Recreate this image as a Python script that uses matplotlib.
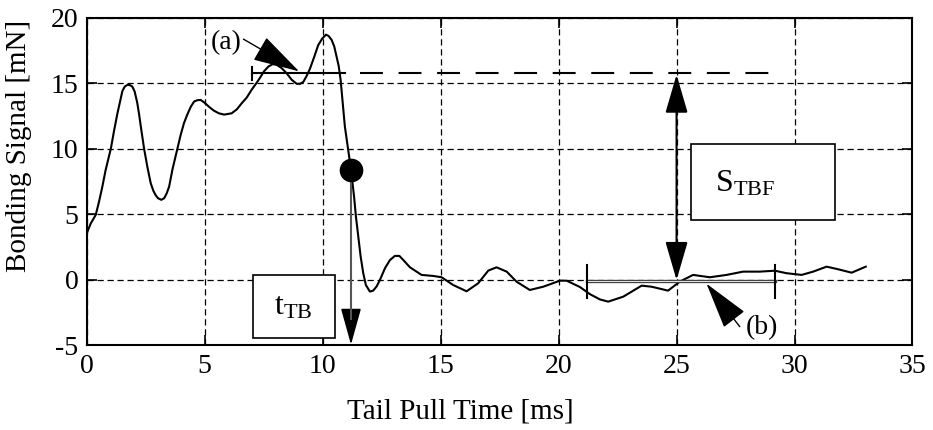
import numpy as np
import matplotlib
matplotlib.use('Agg')
import matplotlib.pyplot as plt
from matplotlib.patches import Rectangle, FancyArrowPatch

plt.rcParams['font.family'] = ['Liberation Serif', 'DejaVu Serif']
plt.rcParams['axes.unicode_minus'] = False

# tail pull signal
t_ms = [0.0, 0.17, 0.38, 0.52, 0.66, 0.8, 1.02, 1.16, 1.30, 1.41, 1.51, 1.61, 1.72,
        1.83, 1.93, 2.03, 2.14, 2.22, 2.29, 2.43, 2.57, 2.71, 2.82, 2.92, 3.02, 3.16,
        3.28, 3.39, 3.49, 3.63, 3.73, 3.84, 3.98, 4.12, 4.26, 4.41, 4.55, 4.69, 4.83,
        5.0, 5.18, 5.39, 5.6, 5.82, 6.14, 6.36, 6.57, 6.78, 6.99, 7.17, 7.34, 7.51,
        7.7, 7.88, 8.05, 8.26, 8.47, 8.69, 8.9, 9.04, 9.18, 9.32, 9.46, 9.64, 9.81,
        9.98, 10.14, 10.25, 10.38, 10.49, 10.59, 10.68, 10.76, 10.85, 10.94, 11.08,
        11.2, 11.33, 11.41, 11.51, 11.61, 11.72, 11.83, 12.0, 12.14, 12.29, 12.43,
        12.64, 12.85, 13.06, 13.25, 13.42, 13.7, 14.19, 14.69, 15.04, 15.53, 16.1,
        16.59, 17.02, 17.37, 17.8, 18.22, 18.78, 19.35, 20.06, 20.34, 20.9, 21.33,
        21.75, 22.1, 22.74, 23.52, 23.94, 24.64, 25.14, 25.7, 26.41, 27.12, 27.82,
        28.53, 29.17, 29.66, 30.3, 30.79, 31.36, 31.85, 32.42, 33.02]
signal = [3.55, 4.3, 4.95, 5.96, 7.1, 8.38, 10.0, 11.4, 12.7, 13.6, 14.4, 14.74, 14.87,
          14.85, 14.74, 14.36, 13.5, 12.6, 11.7, 10.0, 8.6, 7.37, 6.8, 6.45, 6.22, 6.1,
          6.22, 6.6, 7.1, 8.4, 9.15, 10.0, 11.05, 11.95, 12.6, 13.2, 13.6, 13.7, 13.72,
          13.5, 13.2, 12.9, 12.7, 12.6, 12.7, 13.0, 13.47, 13.9, 14.5, 14.95, 15.4, 15.9,
          16.27, 16.45, 16.4, 16.15, 15.76, 15.25, 14.95, 14.95, 15.1, 15.55, 16.1, 17.0, 17.9,
          18.4, 18.7, 18.6, 18.3, 17.8, 17.0, 16.3, 15.25, 13.5, 11.7, 9.9,
          8.4, 6.35, 4.8, 3.3, 1.76, 0.5, -0.4, -0.9, -0.83, -0.5, 0.0,
          0.88, 1.5, 1.82, 1.82, 1.5, 0.95, 0.37, 0.29, 0.19, -0.4, -0.88,
          -0.27, 0.7, 0.95, 0.62, -0.15, -0.78, -0.53, -0.07, -0.07, -0.55, -1.1,
          -1.5, -1.67, -1.29, -0.45, -0.53, -0.83, -0.14, 0.37, 0.19, 0.37, 0.62,
          0.62, 0.69, 0.5, 0.37, 0.62, 1.0, 0.8, 0.54, 1.0]

t_break, s_break = 11.2, 8.4      # tail break point
s_top = 15.75                     # level before break
s_base = -0.12                    # level after break
top_solid = [7.0, 10.94]
top_dash = [11.58, 29.4]
base_x = [21.2, 29.17]

fig = plt.figure(figsize=(9.33, 4.3), dpi=100)
ax = fig.add_axes([0.093, 0.197, 0.885, 0.762])

ax.plot(t_ms, signal, color='black', lw=1.5, zorder=3, solid_joinstyle='round')

ax.set_xlim(0, 35)
ax.set_ylim(-5, 20)
ax.set_xticks(range(0, 36, 5))
ax.set_yticks(range(-5, 21, 5))
ax.grid(True, color='black', linestyle=(0, (5, 3)), lw=0.9)
ax.tick_params(direction='in', length=7, width=1.2, top=True, right=True,
               labelsize=20, pad=6)
for sp in ax.spines.values():
    sp.set_linewidth(1.5)
ax.set_xlabel('Tail Pull Time [ms]', fontsize=21)
ax.set_ylabel('Bonding Signal [mN]', fontsize=21)
ax.xaxis.set_label_coords(0.452, -0.162)
ax.yaxis.set_label_coords(-0.066, 0.608)

# upper level (a)
ax.plot(top_solid, [s_top, s_top], color='black', lw=1.5, zorder=4)
ax.plot([top_solid[0], top_solid[0]], [s_top - 0.5, s_top + 0.5], color='black', lw=1.5)
ax.plot(top_dash, [s_top, s_top], color='black', lw=1.5, dashes=(11, 7.5))

# lower level (b)
ax.plot(base_x, [s_base, s_base], color='#444444', lw=2.4, zorder=4)
ax.plot(base_x, [s_base, s_base], color='white', lw=0.6, zorder=4)
for xb in base_x:
    ax.plot([xb, xb], [1.15, -1.4], color='black', lw=1.5, zorder=4)

# break point and t_TB arrow
ax.plot([t_break], [s_break], 'o', color='black', ms=16, zorder=5)
ax.add_patch(FancyArrowPatch((t_break, s_break), (t_break, -4.95),
                             arrowstyle='-|>,head_length=1.15,head_width=0.32',
                             mutation_scale=20, color='black', lw=1.2,
                             shrinkA=0, shrinkB=0, zorder=4))
ax.plot([t_break, t_break], [s_break, -3.0], color='#555555', lw=1.5, zorder=4)

# S_TBF double arrow
ax.add_patch(FancyArrowPatch((25, s_base + 0.1), (25, s_top - 0.1),
                             arrowstyle='<|-|>,head_length=1.2,head_width=0.35',
                             mutation_scale=20, color='black', lw=1.5,
                             shrinkA=0, shrinkB=0, zorder=4))

# labels in boxes
ax.add_patch(Rectangle((7.03, -4.47), 3.49, 4.84, facecolor='white',
                       edgecolor='black', lw=1.2, zorder=4))
ax.text(8.75, -2.1, r'$\mathregular{t_{TB}}$', fontsize=23, ha='center', va='center', zorder=5)
ax.add_patch(Rectangle((25.6, 4.55), 6.1, 5.81, facecolor='white',
                       edgecolor='black', lw=1.2, zorder=4))
ax.text(26.65, 7.3, r'$\mathregular{S_{TBF}}$', fontsize=23, ha='left', va='center', zorder=5)

# (a) and (b) callouts
ax.text(5.9, 18.1, '(a)', fontsize=20, ha='center', va='center')
ax.add_patch(FancyArrowPatch((6.64, 18.36), (9.0, 15.9),
                             arrowstyle='-|>,head_length=1.5,head_width=0.42',
                             mutation_scale=20, color='black', lw=1.0,
                             shrinkA=0, shrinkB=0, zorder=5))
ax.text(28.6, -3.64, '(b)', fontsize=20, ha='center', va='center')
ax.add_patch(FancyArrowPatch((27.68, -3.58), (26.27, -0.3),
                             arrowstyle='-|>,head_length=1.5,head_width=0.42',
                             mutation_scale=20, color='black', lw=1.0,
                             shrinkA=0, shrinkB=0, zorder=5))

fig.savefig('out.png', dpi=100)
